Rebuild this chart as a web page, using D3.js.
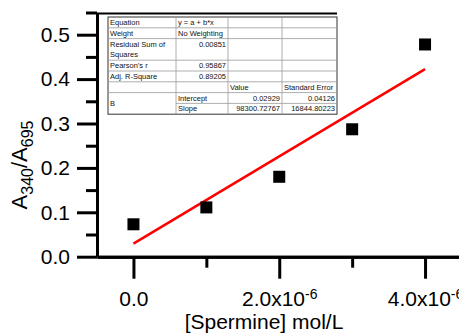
<!DOCTYPE html>
<html>
<head>
<meta charset="utf-8">
<script src="https://cdn.jsdelivr.net/npm/d3@7/dist/d3.min.js"></script>
<style>
  body { margin: 0; background: #fff; }
  svg { display: block; font-family: "Liberation Sans", Arial, sans-serif; }
  .axis path, .axis line { stroke: #000; stroke-width: 3; }
  .axis text { font-size: 21px; fill: #000; font-family: "Liberation Sans", Arial, sans-serif; }
  .tbl text { font-size: 7.5px; fill: #111; }
</style>
</head>
<body>
<div id="chart"></div>
<script>
// Data
const spermine = [0, 1e-6, 2e-6, 3e-6, 4e-6];
const ratio = [0.073, 0.111, 0.180, 0.287, 0.478];

// Linear fit reported in the table
const intercept = 0.02929;
const slope = 98300.72767;

const yMajor = [0, 0.1, 0.2, 0.3, 0.4, 0.5];
const yMinor = [0.05, 0.15, 0.25, 0.35, 0.45, 0.55];
const xMajor = [0, 2e-6, 4e-6];
const xMinor = [1e-6, 3e-6];
const xLabels = ["0.0", "2.0x10", "4.0x10"];

// Fit summary table (rows: label, value cells)
const tableRows = [
  ["Equation", "y = a + b*x", "", ""],
  ["Weight", "No Weighting", "", ""],
  ["Residual Sum of|Squares", "0.00851", "", ""],
  ["Pearson's r", "0.95867", "", ""],
  ["Adj. R-Square", "0.89205", "", ""],
  ["", "", "Value", "Standard Error"],
  ["B", "Intercept", "0.02929", "0.04126"],
  ["", "Slope", "98300.72767", "16844.80223"]
];

const width = 459, height = 334;

const svg = d3.select("#chart").append("svg")
  .attr("width", width)
  .attr("height", height);

// Scales
const x = d3.scaleLinear().domain([-0.5e-6, 4.5e-6]).range([97, 461.5]);
const y = d3.scaleLinear().domain([0, 0.55]).range([256.7, 12.5]);

// Y axis: minor then major ticks
svg.append("g").attr("class", "axis")
  .attr("transform", "translate(97,0)")
  .call(d3.axisLeft(y).tickValues(yMinor).tickSize(11).tickSizeOuter(0).tickFormat(""));
svg.append("g").attr("class", "axis")
  .attr("transform", "translate(97,0)")
  .call(d3.axisLeft(y).tickValues(yMajor).tickSize(20).tickSizeOuter(0).tickPadding(7)
    .tickFormat(d3.format(".1f")));

// X axis sitting on y = 0
const y0 = y(0);
svg.append("g").attr("class", "axis")
  .attr("transform", "translate(0," + y0 + ")")
  .call(d3.axisBottom(x).tickValues(xMinor).tickSize(11).tickSizeOuter(0).tickFormat(""));
const xAxis = svg.append("g").attr("class", "axis")
  .attr("transform", "translate(0," + y0 + ")")
  .call(d3.axisBottom(x).tickValues(xMajor).tickSize(22).tickSizeOuter(0).tickPadding(12)
    .tickFormat((d, i) => xLabels[i]));

// superscript exponent on the non-zero labels
xAxis.selectAll(".tick text").each(function (d, i) {
  if (i === 0) return;
  d3.select(this).append("tspan")
    .attr("dy", "-0.45em")
    .style("font-size", "14px")
    .text("-6");
});

// top frame line
svg.append("line")
  .attr("x1", 97).attr("x2", 337)
  .attr("y1", 13.5).attr("y2", 13.5)
  .attr("stroke", "#000").attr("stroke-width", 2);

// Axis titles
svg.append("text")
  .attr("x", 264).attr("y", 329)
  .attr("text-anchor", "middle")
  .style("font-size", "21px")
  .text("[Spermine] mol/L");

const yt = svg.append("text")
  .attr("transform", "translate(27,165) rotate(-90)")
  .attr("text-anchor", "middle")
  .style("font-size", "22px");
yt.append("tspan").text("A");
yt.append("tspan").attr("dy", 6).style("font-size", "16px").text("340");
yt.append("tspan").attr("dy", -6).text("/A");
yt.append("tspan").attr("dy", 6).style("font-size", "16px").text("695");

// Fit line
svg.append("line")
  .attr("x1", x(0)).attr("y1", y(intercept))
  .attr("x2", x(4e-6)).attr("y2", y(intercept + slope * 4e-6))
  .attr("stroke", "#f00").attr("stroke-width", 2.5);

// Data points
const sq = 12;
svg.selectAll("rect.pt")
  .data(spermine)
  .enter().append("rect")
  .attr("class", "pt")
  .attr("x", d => x(d) - sq / 2)
  .attr("y", (d, i) => y(ratio[i]) - sq / 2)
  .attr("width", sq).attr("height", sq)
  .attr("fill", "#000");

// Fit summary table
const cols = [108, 176, 228, 282, 337];
const rowH = 10.8, tblTop = 17;
const units = tableRows.map(r => r[0].includes("|") ? 2 : 1);
const tbl = svg.append("g").attr("class", "tbl");

tbl.append("rect")
  .attr("x", cols[0]).attr("y", tblTop)
  .attr("width", cols[4] - cols[0]).attr("height", d3.sum(units) * rowH)
  .attr("fill", "#fff").attr("stroke", "#333").attr("stroke-width", 1);

let ry = tblTop;
tableRows.forEach((row, ri) => {
  const h = units[ri] * rowH;
  // horizontal row line (B spans the last two rows)
  if (ri > 0) {
    tbl.append("line")
      .attr("x1", ri === 7 ? cols[1] : cols[0]).attr("x2", cols[4])
      .attr("y1", ry).attr("y2", ry)
      .attr("stroke", "#999").attr("stroke-width", 0.8);
  }
  for (let c = 1; c < 4; c++) {
    tbl.append("line")
      .attr("x1", cols[c]).attr("x2", cols[c])
      .attr("y1", ry).attr("y2", ry + h)
      .attr("stroke", "#999").attr("stroke-width", 0.8);
  }
  row.forEach((cell, ci) => {
    if (!cell) return;
    const numeric = /^[0-9.]+$/.test(cell);
    const lines = cell.split("|");
    lines.forEach((ln, li) => {
      let ty = ry + li * rowH + rowH - 2.8;
      if (ri === 6 && ci === 0) ty = ry + rowH + 3;
      tbl.append("text")
        .attr("x", numeric ? cols[ci + 1] - 2 : cols[ci] + 2)
        .attr("y", ty)
        .attr("text-anchor", numeric ? "end" : "start")
        .text(ln);
    });
  });
  ry += h;
});
</script>
</body>
</html>
